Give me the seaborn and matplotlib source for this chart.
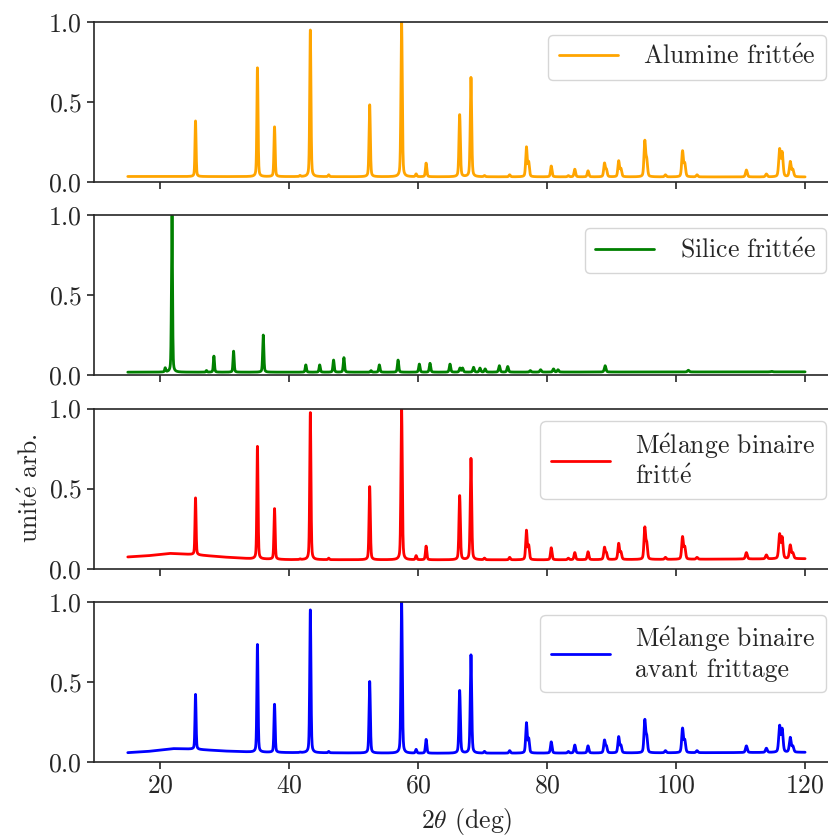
import numpy as np
import pandas as pd
import matplotlib
matplotlib.use("Agg")
import matplotlib.pyplot as plt
import seaborn as sns

pics_alumine = [25.5, 35.1, 37.75, 41.7, 43.3, 46.15, 52.5, 57.45, 59.7, 61.25,
                66.45, 68.2, 70.3, 74.2, 76.8, 77.15, 80.65, 83.3, 84.3, 86.35,
                88.9, 89.2, 91.1, 91.45, 95.15, 95.45, 98.35, 101.0, 101.35, 103.25,
                110.9, 114.0, 116.05, 116.45, 117.7, 118.1]

haut_alumine = [0.38, 0.71, 0.345, 0.04, 0.945, 0.045, 0.48, 1.0, 0.05, 0.118,
                0.42, 0.65, 0.04, 0.045, 0.215, 0.12, 0.10, 0.04, 0.08, 0.07,
                0.115, 0.075, 0.13, 0.08, 0.25, 0.13, 0.045, 0.19, 0.11, 0.045,
                0.075, 0.05, 0.2, 0.18, 0.125, 0.075]
fond_alumine_x = [15, 60, 120]
fond_alumine_y = [0.035, 0.033, 0.032]

haut_fritte = [0.44, 0.76, 0.375, 0.06, 0.97, 0.065, 0.51, 1.0, 0.08, 0.14,
               0.455, 0.685, 0.065, 0.07, 0.235, 0.14, 0.13, 0.065, 0.10, 0.105,
               0.13, 0.095, 0.155, 0.10, 0.25, 0.15, 0.07, 0.195, 0.13, 0.07,
               0.10, 0.085, 0.21, 0.19, 0.145, 0.095]
fond_fritte_x = [15, 18, 21.5, 25, 30, 34, 40, 60, 80, 100, 120]
fond_fritte_y = [0.073, 0.08, 0.095, 0.088, 0.072, 0.062, 0.056, 0.055, 0.055, 0.058, 0.062]

haut_avant = [0.42, 0.73, 0.36, 0.06, 0.945, 0.065, 0.50, 1.0, 0.077, 0.14,
              0.445, 0.665, 0.065, 0.07, 0.24, 0.14, 0.125, 0.065, 0.105, 0.10,
              0.133, 0.095, 0.155, 0.10, 0.255, 0.15, 0.07, 0.206, 0.13, 0.07,
              0.10, 0.085, 0.22, 0.20, 0.15, 0.095]
fond_avant_x = [15, 18, 22, 25, 30, 34, 40, 60, 80, 100, 120]
fond_avant_y = [0.058, 0.065, 0.083, 0.08, 0.068, 0.062, 0.058, 0.054, 0.055, 0.057, 0.06]

pics_silice = [20.8, 21.85, 27.2, 28.35, 31.4, 36.0, 42.6, 44.75, 46.9, 48.5,
               52.7, 54.0, 56.9, 60.2, 61.85, 64.95, 66.5, 66.9, 68.6, 69.6,
               70.4, 72.6, 73.9, 77.4, 79.0, 81.0, 81.7, 89.0, 101.9, 107.3, 114.8]
haut_silice = [0.045, 1.0, 0.03, 0.12, 0.15, 0.25, 0.065, 0.065, 0.095, 0.11,
               0.03, 0.065, 0.095, 0.07, 0.075, 0.07, 0.045, 0.045, 0.05, 0.045,
               0.04, 0.06, 0.055, 0.03, 0.035, 0.04, 0.035, 0.06, 0.032, 0.022, 0.025]
fond_silice_x = [15, 60, 120]
fond_silice_y = [0.02, 0.02, 0.022]

E = r'$\mathrm{\acute{e}}$'
etiquettes = ['Alumine fritt' + E + 'e', 'Silice fritt' + E + 'e',
              'M' + E + 'lange binaire\nfritt' + E,
              'M' + E + 'lange binaire\navant frittage']
couleurs = ['orange', 'green', 'red', 'blue']

deux_theta = np.linspace(15, 120, 5251)


def diffractogramme(pics, hauts, fx, fy):
    pics = np.asarray(pics)
    fond = np.interp(deux_theta, fx, fy)
    nets = np.asarray(hauts) - np.interp(pics, fx, fy)
    y = fond.copy()
    for p, h in zip(pics, nets):
        w = 0.095 + 0.0007 * (p - 20)
        lor = 1 / (1 + ((deux_theta - p) / w) ** 2)
        gau = np.exp(-np.log(2) * ((deux_theta - p) / w) ** 2)
        y += h * (0.35 * lor + 0.65 * gau)
    return y / y.max()


courbes = [
    diffractogramme(pics_alumine, haut_alumine, fond_alumine_x, fond_alumine_y),
    diffractogramme(pics_silice, haut_silice, fond_silice_x, fond_silice_y),
    diffractogramme(pics_alumine, haut_fritte, fond_fritte_x, fond_fritte_y),
    diffractogramme(pics_alumine, haut_avant, fond_avant_x, fond_avant_y),
]

sns.set_style("ticks")
plt.rcParams['font.family'] = ['cmr10', 'DejaVu Serif']
plt.rcParams['mathtext.fontset'] = 'cm'
plt.rcParams['axes.formatter.use_mathtext'] = True
plt.rcParams['font.size'] = 18.5
plt.rcParams['axes.linewidth'] = 1.2

fig, axes = plt.subplots(4, 1, figsize=(8.29, 8.39), dpi=100, sharex=True)
fig.subplots_adjust(left=0.1133, right=1.012, top=0.9738, bottom=0.0918, hspace=0.207)

for ax, y, lab, c in zip(axes, courbes, etiquettes, couleurs):
    df = pd.DataFrame({'x': deux_theta, 'y': y})
    sns.lineplot(data=df, x='x', y='y', ax=ax, color=c, lw=2.0, label=lab, estimator=None)
    ax.set_ylim(0, 1)
    ax.set_xlim(9.75, 125.25)
    ax.set_yticks([0, 0.5, 1.0])
    ax.set_ylabel('')
    ax.set_xlabel('')
    ax.tick_params(labelsize=18.5, length=5, width=1.2)
    ax.legend(loc='upper right', fontsize=18.5, handlelength=2.3, handletextpad=1.0)

axes[-1].set_xticks([20, 40, 60, 80, 100, 120])
axes[2].set_ylabel('unit' + E + ' arb.', fontsize=18.5)
axes[-1].set_xlabel(r'$2\theta$ (deg)', fontsize=18.5, labelpad=6)

plt.savefig('out.png', dpi=100)
